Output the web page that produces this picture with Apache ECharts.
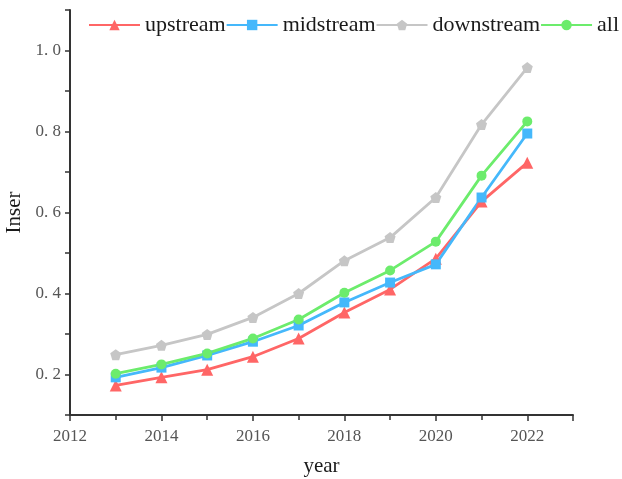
<!DOCTYPE html>
<html>
<head>
<meta charset="utf-8">
<script src="https://cdn.jsdelivr.net/npm/echarts@6/dist/echarts.min.js"></script>
<style>
  html, body { margin: 0; padding: 0; background: #fff; }
  #chart { width: 622px; height: 479px; }
</style>
</head>
<body>
<div id="chart"></div>
<script>
// Yearly index values by segment of the chain
const years = [2013, 2014, 2015, 2016, 2017, 2018, 2019, 2020, 2021, 2022];
const upstream   = [0.173, 0.193, 0.212, 0.244, 0.289, 0.353, 0.410, 0.486, 0.627, 0.723];
const midstream  = [0.193, 0.217, 0.247, 0.281, 0.321, 0.378, 0.427, 0.472, 0.637, 0.795];
const downstream = [0.249, 0.272, 0.299, 0.341, 0.400, 0.481, 0.538, 0.637, 0.817, 0.958];
const allChain   = [0.202, 0.225, 0.252, 0.289, 0.336, 0.402, 0.457, 0.528, 0.691, 0.825];
const seriesNames = ['upstream', 'midstream', 'downstream', 'all'];

const serif = '"Liberation Serif", "DejaVu Serif", serif';
const pentagon = 'path://M0,-10 L9.51,-3.09 L5.88,8.09 L-5.88,8.09 L-9.51,-3.09 Z';

function pairs(vals) {
  return years.map((y, i) => [y, vals[i]]);
}

function lineSeries(name, vals, color, symbol, size) {
  return {
    name: name,
    type: 'line',
    data: pairs(vals),
    symbol: symbol,
    symbolSize: size,
    lineStyle: { color: color, width: 2.8 },
    itemStyle: { color: color },
    emphasis: { disabled: true }
  };
}

const chart = echarts.init(document.getElementById('chart'), null, { renderer: 'canvas' });
chart.setOption({
  animation: false,
  backgroundColor: '#ffffff',
  grid: { left: 70, right: 49, top: 10, bottom: 64, containLabel: false, outerBoundsMode: 'none' },
  legend: {
    data: seriesNames,
    left: 83,
    top: 9,
    width: 600,
    itemWidth: 51,
    itemHeight: 13,
    itemGap: 0,
    textStyle: { fontFamily: serif, fontSize: 22, color: '#1a1a1a' }
  },
  xAxis: {
    type: 'value',
    min: 2012,
    max: 2023,
    interval: 2,
    name: 'year',
    nameLocation: 'middle',
    nameGap: 41,
    nameTextStyle: { fontFamily: serif, fontSize: 21, color: '#1a1a1a' },
    axisLine: { onZero: false, lineStyle: { color: '#333', width: 2 } },
    axisTick: { show: true, length: 6, lineStyle: { color: '#333', width: 1.5 } },
    minorTick: { show: true, splitNumber: 2, length: 5, lineStyle: { color: '#333', width: 1.5 } },
    splitLine: { show: false },
    axisLabel: {
      showMaxLabel: false,
      margin: 13,
      fontFamily: serif,
      fontSize: 17,
      color: '#555',
      formatter: v => String(v)
    }
  },
  yAxis: {
    type: 'value',
    min: 0.1,
    max: 1.1,
    interval: 0.1,
    name: 'Inser',
    nameLocation: 'middle',
    nameGap: 42,
    nameTextStyle: { fontFamily: serif, fontSize: 21, color: '#1a1a1a' },
    axisLine: { show: true, onZero: false, lineStyle: { color: '#333', width: 2 } },
    axisTick: { show: true, length: 5, lineStyle: { color: '#333', width: 1.5 } },
    splitLine: { show: false },
    axisLabel: {
      margin: 9,
      fontFamily: serif,
      fontSize: 17,
      color: '#555',
      formatter: v => {
        const k = Math.round(v * 10);
        return k % 2 === 0 ? (k / 10).toFixed(1).replace('.', '. ') : '';
      }
    }
  },
  series: [
    lineSeries('upstream', upstream, '#ff6666', 'triangle', 12),
    lineSeries('midstream', midstream, '#45b8fb', 'rect', 10),
    lineSeries('downstream', downstream, '#c6c6c6', pentagon, 11),
    lineSeries('all', allChain, '#6cec6c', 'circle', 10)
  ]
});
</script>
</body>
</html>
